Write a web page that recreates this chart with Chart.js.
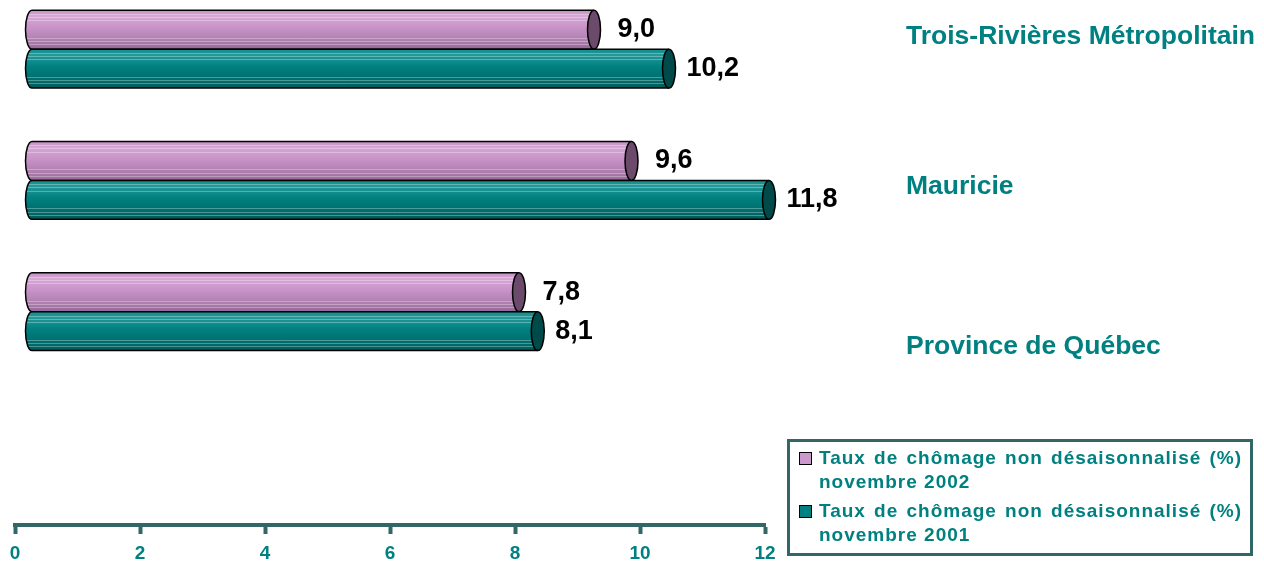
<!DOCTYPE html>
<html lang="fr">
<head>
<meta charset="utf-8">
<title>Taux de chômage non désaisonnalisé</title>
<script src="https://cdn.jsdelivr.net/npm/chart.js@4.4.0/dist/chart.umd.min.js"></script>
<style>
  html, body { margin: 0; padding: 0; background: #fff; }
  #wrap { position: relative; width: 1264px; height: 562px; }
  #legend {
    position: absolute; left: 787px; top: 439px; width: 466px; height: 117px;
    box-sizing: border-box; border: 3px solid #336666; padding: 4px 8px 0 9px;
    font: bold 19px "Liberation Sans", Arial, sans-serif; color: #008080;
    letter-spacing: 1px;
  }
  .item { position: relative; padding-left: 20px; margin-bottom: 5px; }
  .item .sw {
    position: absolute; left: 0; top: 6px; width: 11px; height: 11px;
    border: 1.5px solid #000;
  }
  .item .l1 { text-align: justify; text-align-last: justify; line-height: 24px; }
  .item .l2 { line-height: 24px; }
</style>
</head>
<body>
<div id="wrap">
  <canvas id="chart"></canvas>
  <div id="legend"></div>
</div>
<script>
// Données
const categories = ['Trois-Rivières Métropolitain', 'Mauricie', 'Province de Québec'];
const nov2002 = [9.0, 9.6, 7.8];
const nov2001 = [10.2, 11.8, 8.1];
const seriesTitle = 'Taux de chômage non désaisonnalisé (%)';
const periods = ['novembre 2002', 'novembre 2001'];
const xMin = 0, xMax = 12, xStep = 2;

// Styles
const FONT = '"Liberation Sans", Arial, sans-serif';
const TEAL = '#008080';
const AXIS = '#336666';
const DEPTH = 16.5; // décalage 3D des cylindres
const BAR_STYLE = [
  { main: '#cc99cc', cap: '#6b4a6b',
    stops: [[0, '#c48fc4'], [0.15, '#d6a8d6'], [0.45, '#c893c8'], [0.8, '#ad7dad'], [1, '#966696']],
    labelGap: 17 },
  { main: '#008080', cap: '#004a4a',
    stops: [[0, '#108c8c'], [0.15, '#259999'], [0.45, '#008080'], [0.8, '#006c6c'], [1, '#005a5a']],
    labelGap: 11 }
];
const STRIPES = [0.1, 0.18, 0.26, 0.72, 0.8, 0.88];
const LABEL_NUDGE = [-29, -10, 19];

const fmt = v => v.toFixed(1).replace('.', ',');

// Cylindres dessinés à partir des éléments de barre
const cylinders = {
  id: 'cylinders',
  afterDatasetsDraw(chart) {
    const ctx = chart.ctx;
    chart.data.datasets.forEach((ds, di) => {
      const meta = chart.getDatasetMeta(di);
      const st = BAR_STYLE[di];
      meta.data.forEach((bar, i) => {
        const x0 = bar.base + DEPTH;
        const x1 = bar.x + DEPTH;
        const h = bar.height;
        const cy = bar.y - DEPTH;
        const top = cy - h / 2, bot = cy + h / 2;
        const rx = 6.5, ry = h / 2;

        ctx.save();
        const g = ctx.createLinearGradient(0, top, 0, bot);
        st.stops.forEach(s => g.addColorStop(s[0], s[1]));
        ctx.beginPath();
        ctx.moveTo(x1, top);
        ctx.lineTo(x0, top);
        ctx.ellipse(x0, cy, rx, ry, 0, -Math.PI / 2, Math.PI / 2, true);
        ctx.lineTo(x1, bot);
        ctx.closePath();
        ctx.fillStyle = g;
        ctx.fill();

        // fines rayures claires
        ctx.save();
        ctx.clip();
        ctx.strokeStyle = 'rgba(255,255,255,0.3)';
        ctx.lineWidth = 1;
        STRIPES.forEach(f => {
          const y = Math.round(top + f * h) + 0.5;
          ctx.beginPath();
          ctx.moveTo(x0 - rx, y);
          ctx.lineTo(x1, y);
          ctx.stroke();
        });
        ctx.restore();

        ctx.strokeStyle = '#000';
        ctx.lineWidth = 1.5;
        ctx.beginPath();
        ctx.moveTo(x1, top);
        ctx.lineTo(x0, top);
        ctx.ellipse(x0, cy, rx, ry, 0, -Math.PI / 2, Math.PI / 2, true);
        ctx.lineTo(x1, bot);
        ctx.stroke();

        // couvercle
        ctx.beginPath();
        ctx.ellipse(x1, cy, rx, ry, 0, 0, Math.PI * 2);
        ctx.fillStyle = st.cap;
        ctx.fill();
        ctx.stroke();

        // valeur
        ctx.fillStyle = '#000';
        ctx.font = 'bold 27px ' + FONT;
        ctx.textAlign = 'left';
        ctx.textBaseline = 'middle';
        ctx.fillText(fmt(ds.data[i]), x1 + rx + st.labelGap, cy);
        ctx.restore();
      });
    });
  }
};

// Libellés des catégories à droite
const categoryLabels = {
  id: 'categoryLabels',
  afterDraw(chart) {
    const ctx = chart.ctx;
    const yScale = chart.scales.y;
    ctx.save();
    ctx.fillStyle = TEAL;
    ctx.font = 'bold 26.5px ' + FONT;
    ctx.textAlign = 'left';
    ctx.textBaseline = 'middle';
    categories.forEach((c, i) => {
      ctx.fillText(c, chart.chartArea.right + 141, yScale.getPixelForValue(i) + LABEL_NUDGE[i]);
    });
    ctx.restore();
  }
};

new Chart(document.getElementById('chart'), {
  type: 'bar',
  data: {
    labels: categories.concat(['']),
    datasets: [
      { label: seriesTitle + ' ' + periods[0], data: nov2002,
        backgroundColor: 'rgba(0,0,0,0)', borderWidth: 0,
        barPercentage: 1, categoryPercentage: 0.594 },
      { label: seriesTitle + ' ' + periods[1], data: nov2001,
        backgroundColor: 'rgba(0,0,0,0)', borderWidth: 0,
        barPercentage: 1, categoryPercentage: 0.594 }
    ]
  },
  options: {
    indexAxis: 'y',
    responsive: true,
    maintainAspectRatio: false,
    animation: false,
    layout: { padding: { left: 15, right: 499, top: 0, bottom: 0 } },
    plugins: {
      legend: { display: false },
      tooltip: { enabled: false }
    },
    scales: {
      x: {
        min: xMin, max: xMax,
        ticks: {
          stepSize: xStep,
          color: TEAL,
          padding: 8,
          font: { family: FONT, size: 19, weight: 'bold' }
        },
        grid: { drawOnChartArea: false, drawTicks: true, tickLength: 9, tickWidth: 4, tickColor: AXIS },
        border: { display: true, color: AXIS, width: 4 },
        afterFit(scale) { scale.height = 37; }
      },
      y: { display: false }
    }
  },
  plugins: [cylinders, categoryLabels]
});

// Légende HTML
const legendEl = document.getElementById('legend');
periods.forEach((p, i) => {
  const item = document.createElement('div');
  item.className = 'item';
  item.innerHTML = '<span class="sw" style="background:' + BAR_STYLE[i].main + '"></span>' +
    '<div class="l1">' + seriesTitle + '</div><div class="l2">' + p + '</div>';
  legendEl.appendChild(item);
});
</script>
</body>
</html>
